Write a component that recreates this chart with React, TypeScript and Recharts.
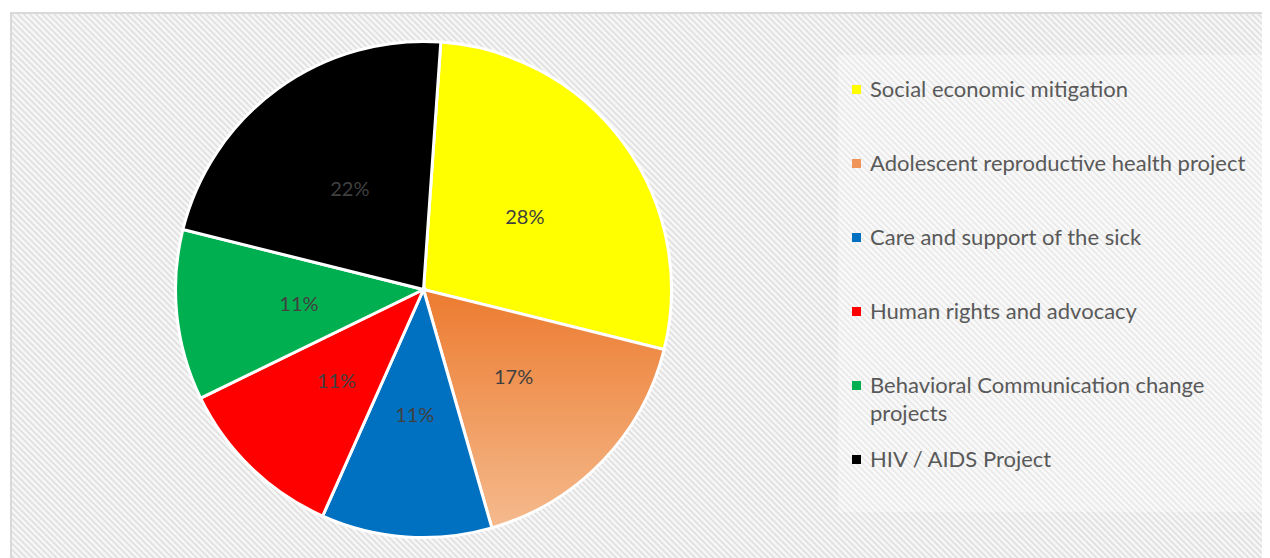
import React from "react";
import { PieChart, Pie, Cell, Legend } from "recharts";

const categories = [
  "Social economic mitigation",
  "Adolescent reproductive health project",
  "Care and support of the sick",
  "Human rights and advocacy",
  "Behavioral Communication change projects",
  "HIV / AIDS Project",
];
const values = [5, 3, 2, 2, 2, 4];
const colors = ["#FFFF00", "url(#orangeGrad)", "#0070C0", "#FF0000", "#00B050", "#000000"];
const legendColors = ["#FFFF00", "#F0955A", "#0070C0", "#FF0000", "#00B050", "#000000"];

const data = categories.map((name, i) => ({ name, value: values[i] }));

const RADIAN = Math.PI / 180;

const renderLabel = (props: any) => {
  const { cx, cy, midAngle, outerRadius, percent } = props;
  const r = outerRadius * 0.505;
  const x = cx + r * Math.cos(-midAngle * RADIAN);
  const y = cy + r * Math.sin(-midAngle * RADIAN);
  return (
    <text
      x={x}
      y={y}
      fill="#404040"
      fontSize={20}
      fontFamily="Lato, sans-serif"
      textAnchor="middle"
      dominantBaseline="central"
    >
      {`${Math.round(percent * 100)}%`}
    </text>
  );
};

// each entry gets the same 74px slot, like the original legend
const renderLegend = () => (
  <div style={{ paddingTop: 20, fontFamily: "Lato, sans-serif" }}>
    {categories.map((name, i) => (
      <div key={name} style={{ display: "flex", alignItems: "flex-start", height: 74 }}>
        <div
          style={{
            width: 9,
            height: 9,
            marginLeft: 14,
            marginTop: 10,
            background: legendColors[i],
            flexShrink: 0,
          }}
        />
        <div
          style={{
            marginLeft: 9,
            width: 390,
            fontSize: 22,
            lineHeight: "28px",
            color: "#595959",
          }}
        >
          {name}
        </div>
      </div>
    ))}
  </div>
);

export default function App() {
  return (
    <div
      style={{
        marginLeft: 2,
        marginTop: 4,
        width: 1260,
        height: 546,
        borderLeft: "2px solid #d9d9d9",
        borderTop: "2px solid #d9d9d9",
        background:
          "repeating-linear-gradient(45deg, #f6f6f6 0px, #f6f6f6 1.8px, #e1e1e1 2.4px, #e1e1e1 3.5px, #f6f6f6 4.3px)",
      }}
    >
      <PieChart width={1258} height={544}>
        <defs>
          <linearGradient id="orangeGrad" x1="0" y1="0" x2="0" y2="1">
            <stop offset="0%" stopColor="#EC7B2F" />
            <stop offset="100%" stopColor="#F5BA8D" />
          </linearGradient>
        </defs>
        <Pie
          data={data}
          dataKey="value"
          nameKey="name"
          cx={406.5}
          cy={270.5}
          outerRadius={248}
          startAngle={86}
          endAngle={-274}
          stroke="#ffffff"
          strokeWidth={3}
          label={renderLabel}
          labelLine={false}
          isAnimationActive={false}
        >
          {data.map((entry, i) => (
            <Cell key={entry.name} fill={colors[i]} />
          ))}
        </Pie>
        <Legend
          layout="vertical"
          content={renderLegend}
          wrapperStyle={{
            left: 826,
            top: 41,
            width: 424,
            height: 457,
            background: "rgba(255,255,255,0.3)",
          }}
        />
      </PieChart>
    </div>
  );
}
